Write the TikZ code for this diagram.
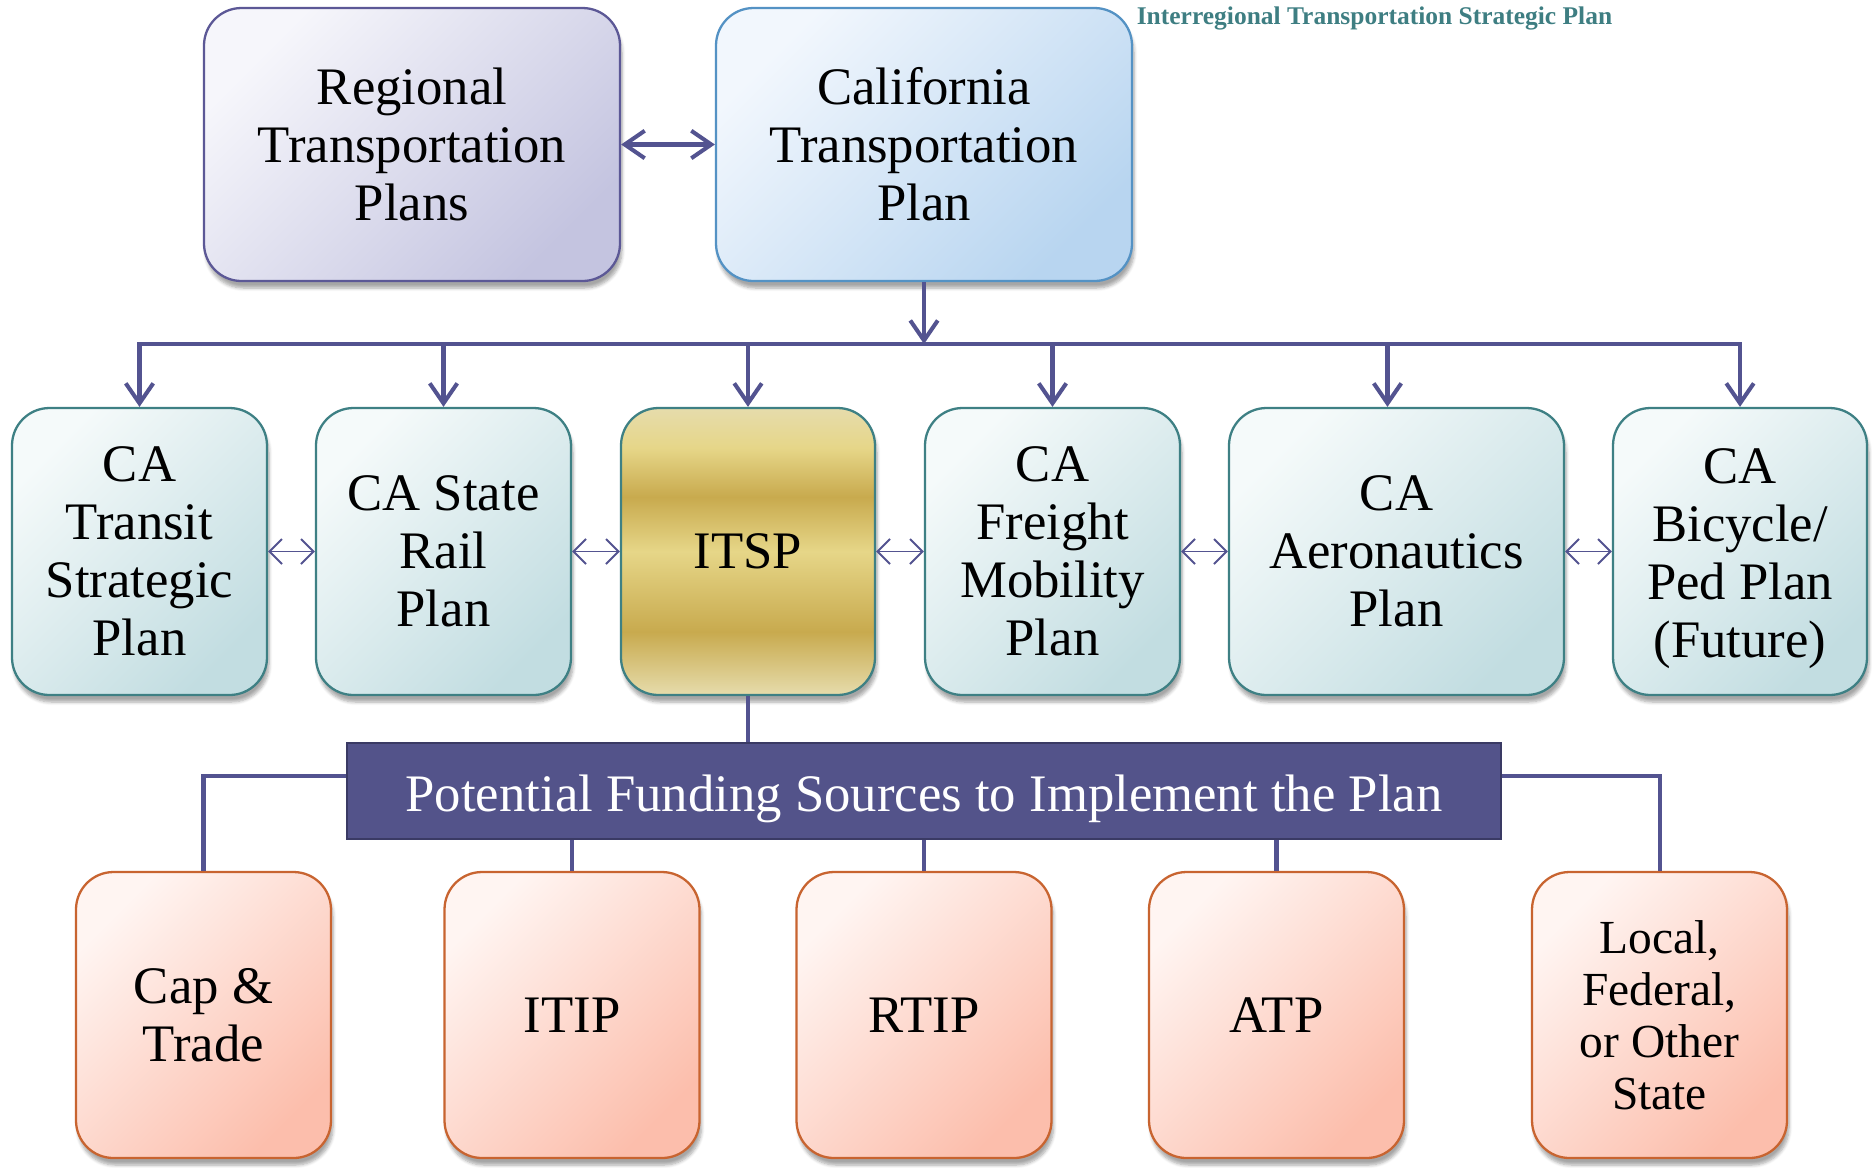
\documentclass[tikz,border=0pt]{standalone}
\usepackage{fontspec}
\setmainfont{Liberation Serif}
\usetikzlibrary{arrows.meta,shadows.blur}

\definecolor{linkblue}{RGB}{83,83,144}
\definecolor{barfill}{RGB}{83,83,138}
\definecolor{bardraw}{RGB}{58,58,100}
\definecolor{titleteal}{RGB}{62,126,130}
\definecolor{regA}{RGB}{246,246,251}
\definecolor{regB}{RGB}{196,196,224}
\definecolor{regD}{RGB}{92,88,150}
\definecolor{calA}{RGB}{242,247,253}
\definecolor{calB}{RGB}{184,213,240}
\definecolor{calD}{RGB}{84,146,196}
\definecolor{planA}{RGB}{245,250,250}
\definecolor{planB}{RGB}{194,221,225}
\definecolor{planD}{RGB}{62,128,132}
\definecolor{fundA}{RGB}{255,245,242}
\definecolor{fundB}{RGB}{252,190,172}
\definecolor{fundD}{RGB}{200,100,48}
\definecolor{goldL}{RGB}{230,214,136}
\definecolor{goldD}{RGB}{200,170,78}
\definecolor{goldE}{RGB}{230,220,172}

\pgfdeclareverticalshading{itspgold}{100bp}{color(0bp)=(goldE); color(25bp)=(goldE);
  color(36bp)=(goldD); color(50bp)=(goldL); color(59.5bp)=(goldD); color(68bp)=(goldL);
  color(75bp)=(goldE); color(100bp)=(goldE)}

\begin{document}
\begin{tikzpicture}[
    box/.style={rounded corners=0.75cm, line width=1.3pt, align=center, inner sep=0pt,
        font=\fontsize{30}{33}\selectfont,
        blur shadow={shadow xshift=0.4mm, shadow yshift=-1.4mm, shadow blur steps=6, shadow opacity=35}},
    upper/.style={box, minimum width=8.32cm, minimum height=5.46cm, shading angle=45},
    plan/.style={box, draw=planD, top color=planA, bottom color=planB, shading angle=45,
        minimum width=5.1cm, minimum height=5.74cm},
    fund/.style={box, draw=fundD, top color=fundA, bottom color=fundB, shading angle=45,
        minimum width=5.1cm, minimum height=5.72cm},
    link/.style={draw=linkblue, line width=2.3pt},
    down/.style={link, -{Straight Barb[length=4mm, width=5.5mm]}},
    both/.style={draw=linkblue, line width=1.1pt,
        {Straight Barb[length=2.5mm, width=5mm]}-{Straight Barb[length=2.5mm, width=5mm]}}
]
\useasboundingbox (0,0) rectangle (37.44,-23.34);

\node[text=titleteal, font=\fontsize{14.5}{16}\selectfont\bfseries] (ttl) at (27.49,-0.36)
    {Interregional Transportation Strategic Plan};

% top row
\node[upper, draw=regD, top color=regA, bottom color=regB, shading angle=45] (reg) at (8.24,-2.89)
    {Regional\\Transportation\\Plans};
\node[upper, draw=calD, top color=calA, bottom color=calB, shading angle=45] (ctp) at (18.48,-2.89)
    {California\\Transportation\\Plan};

% modal plans
\node[plan] (tsp) at (2.79,-11.03) {CA\\Transit\\Strategic\\Plan};
\node[plan] (rail) at (8.87,-11.03) {CA State\\Rail\\Plan};
\node[box, draw=planD, shading=itspgold, minimum width=5.08cm, minimum height=5.74cm] (itsp) at (14.96,-11.03) {ITSP};
\node[plan] (frt) at (21.05,-11.03) {CA\\Freight\\Mobility\\Plan};
\node[plan, minimum width=6.7cm] (aero) at (27.93,-11.03) {CA\\Aeronautics\\Plan};
\node[plan, minimum width=5.08cm] (bike) at (34.8,-11.03)
    {\raisebox{-0.14cm}[\height][\depth]{\begin{tabular}{@{}c@{}}CA\\Bicycle/\\Ped Plan\\(Future)\end{tabular}}};

% funding
\node[draw=bardraw, fill=barfill, line width=1.6pt, minimum width=23.08cm, minimum height=1.92cm,
    text=white, font=\fontsize{30}{33}\selectfont] (bar) at (18.48,-15.82)
    {\raisebox{-0.16cm}[\height][\depth]{Potential Funding Sources to Implement the Plan}};

\node[fund] (cap) at (4.07,-20.3) {Cap \&\\Trade};
\node[fund] (itip) at (11.44,-20.3) {ITIP};
\node[fund] (rtip) at (18.48,-20.3) {RTIP};
\node[fund] (atp) at (25.53,-20.3) {ATP};
\node[fund, font=\fontsize{27}{29.5}\selectfont] (local) at (33.19,-20.3) {Local,\\Federal,\\or Other\\State};

% connectors
\coordinate (bus) at (18.48,-6.88);
\draw[link, {Straight Barb[length=4mm, width=5.5mm]}-{Straight Barb[length=4mm, width=5.5mm]}] (reg) -- (ctp);
\draw[down] (ctp.south) -- (bus);
\draw[link, line cap=rect] (tsp.north |- bus) -- (bike.north |- bus);
\foreach \n in {tsp,rail,itsp,frt,bike}
    \draw[down] (\n.north |- bus) -- (\n.north);
\draw[down] ([xshift=-0.18cm]aero.north |- bus) -- ([xshift=-0.18cm]aero.north);

\draw[both] (tsp) -- (rail);
\draw[both] (rail) -- (itsp);
\draw[both] (itsp) -- (frt);
\draw[both] (frt) -- (aero);
\draw[both] (aero) -- (bike);

\draw[link] (itsp.south) -- (itsp.south |- bar.north);
\draw[link] ([yshift=0.3cm]bar.west) -| (cap.north);
\draw[link] ([yshift=0.3cm]bar.east) -| (local.north);
\foreach \n in {itip,rtip,atp}
    \draw[link] (\n.north |- bar.south) -- (\n.north);
\end{tikzpicture}
\end{document}
